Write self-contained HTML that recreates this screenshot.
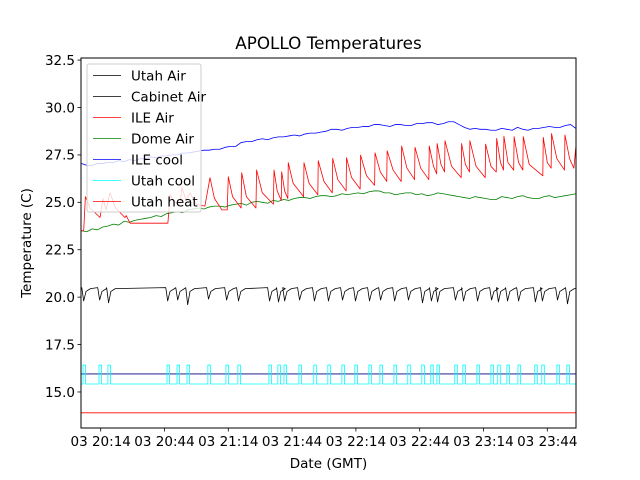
<!DOCTYPE html>
<html><head><meta charset="utf-8"><style>
html,body{margin:0;padding:0;background:#fff}
svg{display:block}
text{font-family:"DejaVu Sans","Liberation Sans",sans-serif;fill:#000}
</style></head><body>
<svg id="chart" width="640" height="480" viewBox="0 0 640 480" xmlns="http://www.w3.org/2000/svg">
<rect width="640" height="480" fill="#fff"/>
<text x="328.5" y="49" font-size="16.8" text-anchor="middle">APOLLO Temperatures</text>
<text transform="translate(31,243) rotate(-90)" font-size="13.5" text-anchor="middle">Temperature (C)</text>
<text x="328.5" y="468" font-size="13.5" text-anchor="middle">Date (GMT)</text>
<g id="plot"></g>
<g id="axes"></g>
<g id="legend"></g>
</svg>
<script>
// ---- data (time in minutes after 20:00 GMT on day 03) ----
const yTicks = [15.0, 17.5, 20.0, 22.5, 25.0, 27.5, 30.0, 32.5];
const xTickMinutes = [14, 44, 74, 104, 134, 164, 194, 224];
const xTickLabels = ["03 20:14","03 20:44","03 21:14","03 21:44","03 22:14","03 22:44","03 23:14","03 23:44"];
const seriesNames = ["Utah Air","Cabinet Air","ILE Air","Dome Air","ILE cool","Utah cool","Utah heat"];
const seriesColors = ["#000000","#000000","#ff0000","#008000","#0000ff","#00ffff","#ff0000"];

const ileAirT = [4.7,6.0,6.8,9,13.7,15.1,16.5,18.4,21,25.4,26,27.8,45.6,46.6,49,51.3,52.2,54.1,56.0,59,63.0,65.4,67.5,71.0,73.5,74.0,76,80.0,80.3,82.5,87.0,87.3,90,95.2,95.5,97,98.9,99.1,100.5,102.0,102.2,104.5,109.4,109.6,112,116.1,116.3,119,122.9,123.1,125.5,129.4,129.6,132,136.0,136.2,139,142.8,143.0,145.5,148.5,148.7,151.5,155.3,155.5,158,161.6,161.8,164.5,168.3,168.5,170.5,172.0,172.2,174,175.7,175.9,179,183.5,183.7,185.5,187.4,187.6,190.5,194.8,195.0,197.5,200.0,200.2,202,203.4,203.6,205.5,208.2,208.4,210.5,212.5,212.7,215.5,221.9,222.1,224,225.8,226.0,228.5,232.1,232.3,234.5,236.5,237.4];
const ileAirV = [23.5,23.5,25.3,24.7,24.2,25.2,24.6,25.5,24.7,24.2,24.3,23.9,23.9,25.4,25.0,24.9,25.8,25.1,25.5,24.9,24.8,26.3,25.2,24.6,24.6,26.35,25.3,24.7,26.56,25.3,24.7,26.7,25.5,24.9,26.7,25.6,25.1,26.61,25.6,25.2,27.09,26.0,25.3,27.09,26.0,25.4,27.19,26.1,25.5,27.32,26.2,25.6,27.35,26.3,25.7,27.49,26.4,25.9,27.61,26.6,26.1,27.72,26.7,26.1,27.97,26.8,26.2,27.9,26.8,26.2,27.97,26.9,26.5,28.10,27.0,26.6,28.25,26.9,26.3,28.10,27.0,26.6,28.25,26.9,26.3,28.07,26.9,26.6,28.37,27.1,26.7,28.49,27.1,26.7,28.46,27.1,26.7,28.46,27.0,26.4,28.42,27.1,26.8,28.63,27.3,26.7,28.55,27.3,26.8,27.9];

const ileCoolT = [5,7.5,10,12.5,15,17.5,20,22.5,25,27.5,30,32.5,35,37.5,40,42.5,45,47.5,50,52.5,55,57.5,60,62.5,65,67.5,70,72.5,75,77.5,80,82.5,85,87.5,90,92.5,95,97.5,100,102.5,105,107.5,110,112.5,115,117.5,120,122.5,125,127.5,130,132.5,135,137.5,140,142.5,145,147.5,150,152.5,155,157.5,160,162.5,165,167.5,170,172.5,175,177.5,180,182.5,185,187.5,190,192.5,195,197.5,200,202.5,205,207.5,210,212.5,215,217.5,220,222.5,225,227.5,230,232.5,235,237.4];
const ileCoolV = [27.05,26.95,26.95,27.05,27.05,27.1,27.1,27.2,27.15,27.25,27.2,27.3,27.3,27.4,27.35,27.45,27.45,27.5,27.5,27.6,27.6,27.65,27.7,27.75,27.75,27.8,27.8,27.9,27.95,27.95,28.15,28.2,28.2,28.3,28.35,28.3,28.4,28.45,28.45,28.5,28.55,28.5,28.6,28.65,28.65,28.7,28.75,28.85,28.85,28.8,28.9,28.95,28.95,29.0,29.0,29.1,29.1,29.05,29.0,29.1,29.1,29.05,29.05,29.15,29.15,29.2,29.2,29.1,29.15,29.25,29.25,29.1,28.95,28.85,28.9,28.85,28.85,28.8,28.8,28.9,28.85,28.8,28.95,28.85,28.8,28.9,28.9,28.95,29.0,28.95,28.95,29.05,29.1,28.9];

const domeT = [5,7.5,10,12.5,15,17.5,20,22.5,25,27.5,30,32.5,35,37.5,40,42.5,45,47.5,50,52.5,55,57.5,60,62.5,65,67.5,70,72.5,75,77.5,80,82.5,85,87.5,90,92.5,95,97.5,100,102.5,105,107.5,110,112.5,115,117.5,120,122.5,125,127.5,130,132.5,135,137.5,140,142.5,145,147.5,150,152.5,155,157.5,160,162.5,165,167.5,170,172.5,175,177.5,180,182.5,185,187.5,190,192.5,195,197.5,200,202.5,205,207.5,210,212.5,215,217.5,220,222.5,225,227.5,230,232.5,235,237.4];
const domeV = [23.5,23.45,23.6,23.55,23.7,23.75,23.85,23.8,24.0,23.95,24.05,24.1,24.15,24.2,24.3,24.25,24.4,24.45,24.5,24.45,24.6,24.65,24.7,24.65,24.75,24.8,24.8,24.75,24.85,24.9,24.95,24.85,25.0,25.05,25.0,24.95,25.1,25.05,25.15,25.1,25.2,25.25,25.25,25.2,25.3,25.35,25.35,25.3,25.35,25.45,25.4,25.45,25.5,25.45,25.55,25.6,25.6,25.5,25.5,25.4,25.45,25.5,25.5,25.4,25.45,25.35,25.4,25.5,25.45,25.4,25.35,25.3,25.25,25.2,25.3,25.25,25.2,25.15,25.15,25.3,25.25,25.2,25.3,25.35,25.25,25.2,25.2,25.3,25.35,25.25,25.3,25.35,25.4,25.45];

const utahAirDipT = [5.7,13.2,17.4,45.2,49.9,54.6,64.4,72.9,78.5,93.1,97.3,100.2,107.2,114.2,120.8,127.4,133.5,140.1,145.3,151.9,158.4,165.0,169.2,172.1,180.5,184.3,190.9,197.5,200.7,205.0,210.2,218.1,221.4,228.5,233.2];
const utahAirDipV = [19.8,19.85,19.7,19.8,19.85,19.6,19.9,19.85,19.8,19.8,19.75,19.8,19.85,19.8,19.8,19.85,19.8,19.8,19.85,19.8,19.85,19.7,19.8,19.75,19.85,19.8,19.8,19.85,19.75,19.8,19.8,19.75,19.8,19.85,19.65];
const utahAirBase = 20.45;

const utahCoolPulseT = utahAirDipT;
const utahCoolLow = 15.42, utahCoolHigh = 16.42, utahCoolWidth = 1.2;
const cabinetLevel = 15.95;   // flat navy trace
const utahHeatLevel = 13.9;   // flat red trace
const tMin = 4.74, tMax = 237.5, vMin = 13.1, vMax = 32.61;

// ---- axis functions ----
const L = 81, R = 576, T = 58, B = 428;
const X = t => L + (t - tMin) / (tMax - tMin) * (R - L);
const Y = v => B - (v - vMin) / (vMax - vMin) * (B - T);
const NS = "http://www.w3.org/2000/svg";
function mk(tag, attrs, parent) {
  const e = document.createElementNS(NS, tag);
  for (const k in attrs) e.setAttribute(k, attrs[k]);
  parent.appendChild(e);
  return e;
}
const plot = document.getElementById('plot');
const axes = document.getElementById('axes');
const legend = document.getElementById('legend');
const defs = mk('defs', {}, plot);
const cp = mk('clipPath', {id: 'clip'}, defs);
mk('rect', {x: L, y: T, width: R - L, height: B - T}, cp);
const g = mk('g', {'clip-path': 'url(#clip)'}, plot);

function line(ts, vs, color, name) {
  const d = ts.map((t, i) => (i ? 'L' : 'M') + X(t).toFixed(2) + ' ' + Y(vs[i]).toFixed(2)).join(' ');
  const p = mk('path', {d: d, fill: 'none', stroke: color, 'stroke-width': 0.8, 'stroke-linejoin': 'round'}, g);
  
  
}

const uaT = [tMin], uaV = [utahAirBase];
utahAirDipT.forEach((t, i) => {
  uaT.push(t - 0.6, t + 0.3, t + 1.4, t + 3.5);
  uaV.push(utahAirBase + 0.05, utahAirDipV[i], 20.3, utahAirBase);
});
uaT.push(tMax); uaV.push(utahAirBase);
const ucT = [tMin], ucV = [utahCoolLow];
utahCoolPulseT.forEach(t => {
  ucT.push(t, t, t + utahCoolWidth, t + utahCoolWidth);
  ucV.push(utahCoolLow, utahCoolHigh, utahCoolHigh, utahCoolLow);
});
ucT.push(tMax); ucV.push(utahCoolLow);

line([tMin, tMax], [utahHeatLevel, utahHeatLevel], '#ff0000', 'utah-heat-line');
line([tMin, tMax], [cabinetLevel, cabinetLevel], '#000080', 'cabinet-air-line');
line(ucT, ucV, '#00ffff', 'utah-cool-line');
line(uaT, uaV, '#000000', 'utah-air-line');
line(domeT, domeV, '#008000', 'dome-air-line');
line(ileCoolT, ileCoolV, '#0000ff', 'ile-cool-line');
line(ileAirT, ileAirV, '#ff0000', 'ile-air-line');

const fr = mk('rect', {x: L, y: T, width: R - L, height: B - T, fill: 'none', stroke: '#000', 'stroke-width': 1}, axes);


yTicks.forEach(v => {
  const y = Y(v);
  const tk = mk('line', {x1: L - 3.5, x2: L, y1: y, y2: y, stroke: '#000', 'stroke-width': 0.8}, axes);
  
  
  const tx = mk('text', {x: L - 6, y: y + 4.8, 'font-size': 13.5, 'text-anchor': 'end'}, axes);
  tx.textContent = v.toFixed(1);
  
  
});
xTickMinutes.forEach((t, i) => {
  const x = X(t);
  const tk = mk('line', {x1: x, x2: x, y1: B, y2: B + 3.5, stroke: '#000', 'stroke-width': 0.8}, axes);
  
  
  const tx = mk('text', {x: x, y: B + 18, 'font-size': 13.5, 'text-anchor': 'middle'}, axes);
  tx.textContent = xTickLabels[i];
  
  
});

const lb = mk('rect', {x: 87, y: 64, width: 114, height: 148, rx: 2, fill: '#fff', 'fill-opacity': 0.8, stroke: '#cccccc', 'stroke-width': 1}, legend);


seriesNames.forEach((n, i) => {
  const y = 75.5 + i * 21;
  const ent = mk('g', {}, legend);
  
  
  mk('line', {x1: 93, x2: 121, y1: y, y2: y, stroke: seriesColors[i], 'stroke-width': 0.8}, ent);
  const tx = mk('text', {x: 131, y: y + 4.8, 'font-size': 13.5}, ent);
  tx.textContent = n;
});
</script>
</body></html>
